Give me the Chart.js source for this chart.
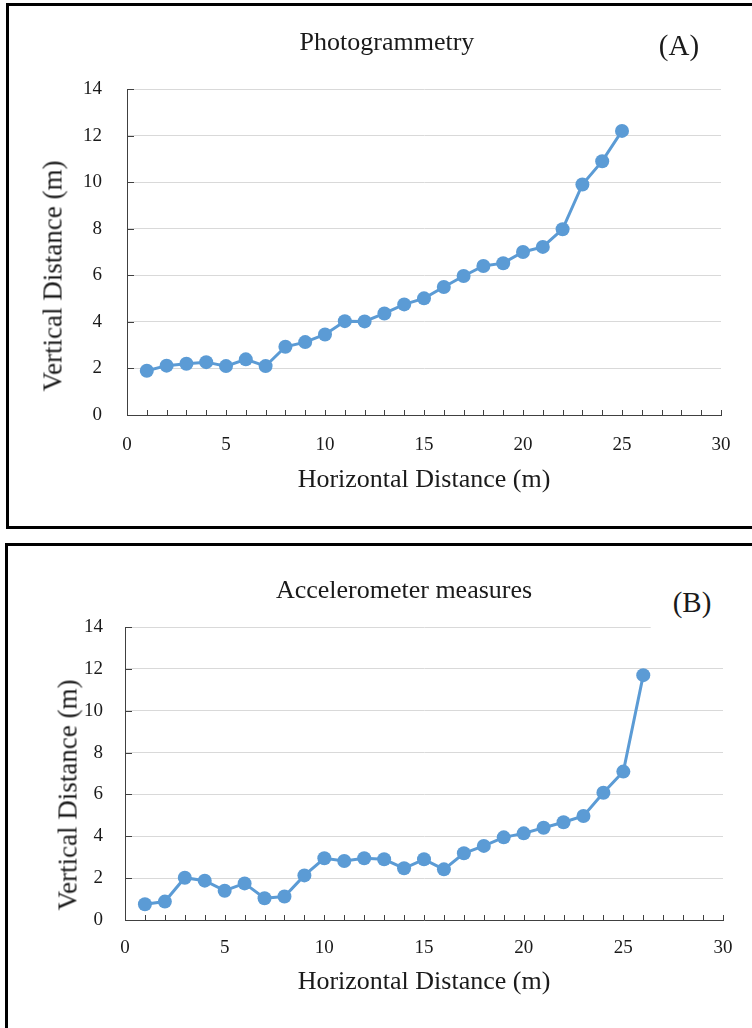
<!DOCTYPE html>
<html>
<head>
<meta charset="utf-8">
<script src="https://cdn.jsdelivr.net/npm/chart.js@4.4.1/dist/chart.umd.min.js"></script>
<style>
  html, body { margin: 0; padding: 0; background: #fff; }
  body { width: 752px; height: 1028px; position: relative; overflow: hidden; font-family: 'Liberation Serif', 'Times New Roman', serif; color: #1a1a1a; }
  .frame { position: absolute; border: 3px solid #000; box-sizing: border-box; }
  .cv { position: absolute; left: 0; }
  .txt { position: absolute; transform: translate(-50%, -50%); white-space: nowrap; font-family: 'Liberation Serif', 'Times New Roman', serif; color: #1a1a1a; line-height: 1; }
  .ytitle { position: absolute; transform: translate(-50%, -50%) rotate(-90deg); white-space: nowrap; font-family: 'Liberation Serif', 'Times New Roman', serif; color: #1a1a1a; line-height: 1; font-size: 27px; }
</style>
</head>
<body>
<div class="frame" style="left:6px; top:3px; width:760px; height:526px;"></div>
<div class="frame" style="left:5px; top:543px; width:760px; height:500px;"></div>

<div class="cv" style="top:0; width:752px; height:527px;"><canvas id="chartA"></canvas></div>
<div class="cv" style="top:543px; width:752px; height:485px;"><canvas id="chartB"></canvas></div>

<div class="txt" style="left:387px; top:42px; font-size:26px;">Photogrammetry</div>
<div class="txt" style="left:679px; top:45px; font-size:29px;">(A)</div>
<div class="txt" style="left:404px; top:590px; font-size:26px;">Accelerometer measures</div>
<div class="txt" style="left:692px; top:606px; font-size:29px; background:#fff; padding:6px 22px 14px 22px;">(B)</div>
<div class="ytitle" id="ytA" style="left:53px; top:276px;"></div>
<div class="ytitle" id="ytB" style="left:68px; top:795px;"></div>

<script>
// ---- data ----
const photoX = [1,2,3,4,5,6,7,8,9,10,11,12,13,14,15,16,17,18,19,20,21,22,23,24,25];
const photoY = [1.9,2.12,2.2,2.27,2.1,2.39,2.1,2.93,3.13,3.46,4.03,4.02,4.36,4.75,5.01,5.5,5.97,6.4,6.52,7.0,7.22,7.98,9.9,10.9,12.2];
const accelX = [1,2,3,4,5,6,7,8,9,10,11,12,13,14,15,16,17,18,19,20,21,22,23,24,25,26];
const accelY = [0.75,0.88,2.02,1.88,1.4,1.75,1.04,1.12,2.13,2.95,2.82,2.95,2.9,2.47,2.9,2.42,3.19,3.54,3.95,4.14,4.41,4.67,4.97,6.08,7.09,11.7];
const xTickLabels = [0,5,10,15,20,25,30];
const yTickLabels = [0,2,4,6,8,10,12,14];
const xTitle = 'Horizontal Distance (m)';
const yTitle = 'Vertical Distance (m)';

document.getElementById('ytA').textContent = yTitle;
document.getElementById('ytB').textContent = yTitle;

const BLUE = '#5b9bd5';
const AXIS = '#404040';
const FONT = "'Liberation Serif', 'Times New Roman', serif";

// inside tick marks drawn from the library's scales
const insideTicks = {
  id: 'insideTicks',
  beforeDatasetsDraw(chart) {
    const {ctx, scales: {x, y}, chartArea} = chart;
    ctx.save();
    ctx.strokeStyle = AXIS;
    ctx.lineWidth = 1;
    ctx.beginPath();
    for (let v = x.min + 1; v <= x.max; v += 1) {
      const px = Math.round(x.getPixelForValue(v)) + 0.5;
      ctx.moveTo(px, chartArea.bottom);
      ctx.lineTo(px, chartArea.bottom - 5);
    }
    yTickLabels.forEach(v => {
      if (v === 0) return;
      const py = Math.round(y.getPixelForValue(v)) + 0.5;
      ctx.moveTo(chartArea.left, py);
      ctx.lineTo(chartArea.left + 7, py);
    });
    ctx.stroke();
    ctx.restore();
  }
};

function makeChart(id, xs, ys, g) {
  const data = xs.map((xv, i) => ({x: xv, y: ys[i]}));
  return new Chart(document.getElementById(id), {
    type: 'scatter',
    data: { datasets: [{
      data,
      showLine: true,
      borderColor: BLUE,
      backgroundColor: BLUE,
      borderWidth: 3,
      pointRadius: 7,
      pointHoverRadius: 7,
      pointBorderWidth: 0,
      tension: 0
    }]},
    plugins: [insideTicks],
    options: {
      responsive: true,
      maintainAspectRatio: false,
      animation: false,
      events: [],
      layout: { padding: { left: 0, top: g.top, right: g.right, bottom: 0 } },
      plugins: { legend: { display: false }, tooltip: { enabled: false }, title: { display: false } },
      scales: {
        x: {
          type: 'linear',
          min: 0, max: 30,
          afterFit: s => { s.height = g.xh; },
          ticks: {
            stepSize: 1, autoSkip: false, maxRotation: 0, padding: g.xtp,
            color: '#1a1a1a', font: { family: FONT, size: 19 },
            callback: v => xTickLabels.includes(v) ? String(v) : ''
          },
          grid: { display: true, drawOnChartArea: false, drawTicks: false },
          border: { display: true, color: AXIS, width: 1 },
          title: { display: true, text: xTitle, color: '#1a1a1a', font: { family: FONT, size: 26 }, padding: { top: 0, bottom: g.xtb } }
        },
        y: {
          min: 0, max: 14,
          afterFit: s => { s.width = g.yw; },
          ticks: {
            stepSize: 2, padding: g.ytp, color: '#1a1a1a', font: { family: FONT, size: 19 },
            callback: v => yTickLabels.includes(v) ? String(v) : ''
          },
          grid: { color: '#d9d9d9', lineWidth: 1, drawTicks: false },
          border: { display: true, color: AXIS, width: 1 },
          title: { display: false }
        }
      }
    }
  });
}

makeChart('chartA', photoX, photoY, { top: 89, right: 31, xh: 112, yw: 127, xtp: 19, ytp: 25, xtb: 31 });
makeChart('chartB', accelX, accelY, { top: 84, right: 29, xh: 108, yw: 125, xtp: 17, ytp: 22, xtb: 30 });
</script>
</body>
</html>
